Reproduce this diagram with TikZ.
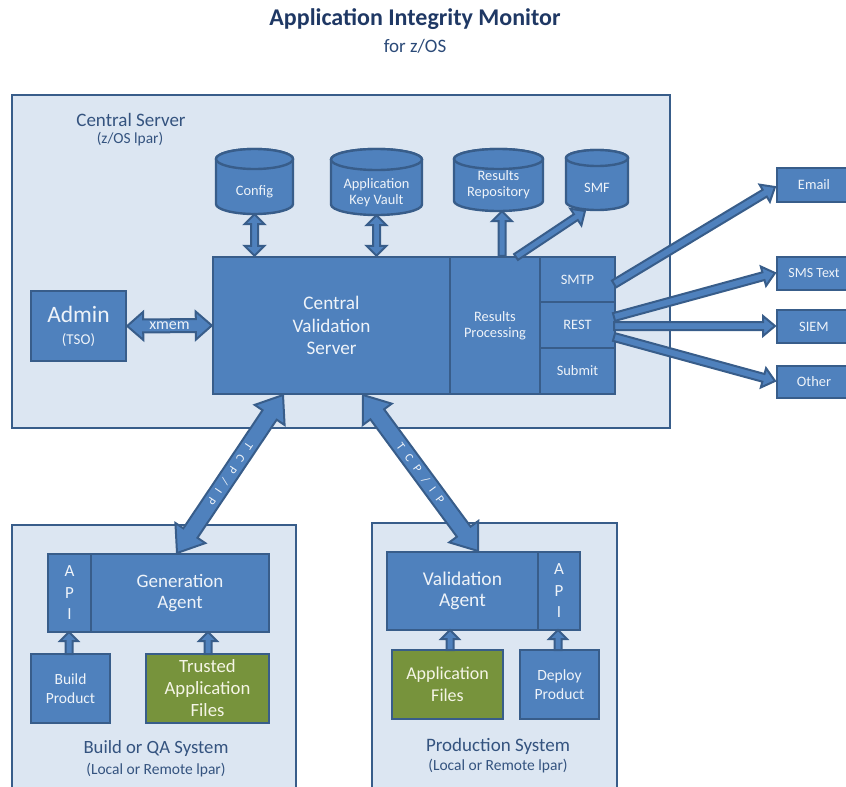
\documentclass[tikz,border=0pt]{standalone}
\usepackage{fontspec}
\setmainfont{Carlito}
\usetikzlibrary{calc}
\definecolor{boxfill}{HTML}{4F81BD}
\definecolor{boxline}{HTML}{385D8A}
\definecolor{contfill}{HTML}{DCE6F2}
\definecolor{grnfill}{HTML}{77933C}
\definecolor{titlec}{HTML}{1F3864}
\definecolor{subc}{HTML}{2B4A78}
\definecolor{labc}{HTML}{34537F}
\definecolor{txtc}{HTML}{EEF3F9}
\definecolor{gtxt}{HTML}{F5F5E6}
\newcommand\fsz[2]{\fontsize{#1pt}{#2pt}\selectfont}
\tikzset{
  cont/.style={draw=boxline, fill=contfill, line width=2.4pt, inner sep=0pt},
  bbox/.style={draw=boxline, fill=boxfill, line width=2.4pt, inner sep=0pt, align=center, text=txtc},
  gbox/.style={bbox, fill=grnfill, text=gtxt},
  cylshape/.style={draw=boxline, fill=boxfill, line width=2.4pt},
  barrow/.style={draw=boxline, fill=boxfill, line width=2pt, line join=miter},
  lab/.style={text=labc, align=center, inner sep=0pt},
  arrtext/.style={text=txtc, inner sep=0pt, font=\fsz{12}{14}},
}
% cylinder: name, cx, top, bottom, rx, ry, text
\newcommand\dbcyl[7]{%
  \filldraw[cylshape] ({#2-#5},{#3+#6}) -- ({#2-#5},{#4-#6})
    arc[start angle=180,end angle=360,x radius=#5pt,y radius=#6pt]
    -- ({#2+#5},{#3+#6})
    arc[start angle=0,end angle=180,x radius=#5pt,y radius=#6pt] -- cycle;
  \draw[cylshape] (#2,{#3+#6}) ellipse[x radius=#5pt,y radius=#6pt];
  \node[align=center, text=txtc, inner sep=0pt, minimum width={2*#5pt},
        minimum height={(#4-#3-2*#6)*1pt}, font=\fsz{14.4}{16}] (#1) at (#2,{(#3+2*#6+#4)/2}) {#7};
}
% single block arrow: from, to, shaft half, head half, head length
\newcommand\sarrow[5]{%
  \coordinate (hb) at ($(#2)!#5!(#1)$);
  \filldraw[barrow] ($(#1)!#3!90:(#2)$) -- ($(hb)!#3!-90:(#1)$) -- ($(hb)!#4!-90:(#1)$)
    -- (#2) -- ($(hb)!#4!90:(#1)$) -- ($(hb)!#3!90:(#1)$) -- ($(#1)!#3!-90:(#2)$) -- cycle;
}
% double block arrow
\newcommand\darrow[5]{%
  \coordinate (ha) at ($(#1)!#5!(#2)$);
  \coordinate (hb) at ($(#2)!#5!(#1)$);
  \filldraw[barrow] (#1) -- ($(ha)!#4!90:(#2)$) -- ($(ha)!#3!90:(#2)$)
    -- ($(hb)!#3!-90:(#1)$) -- ($(hb)!#4!-90:(#1)$) -- (#2)
    -- ($(hb)!#4!90:(#1)$) -- ($(hb)!#3!90:(#1)$)
    -- ($(ha)!#3!-90:(#2)$) -- ($(ha)!#4!-90:(#2)$) -- cycle;
}
\begin{document}
\begin{tikzpicture}[x=1pt,y=-1pt]
\useasboundingbox (0,0) rectangle (846,787);
\clip (0,0) rectangle (846,787);

% title
\node[text=titlec, font=\bfseries\fsz{24}{27}, inner sep=0pt] (title) at (415,19) {Application Integrity Monitor};
\node[text=subc, font=\fsz{19}{22}, inner sep=0pt] (subtitle) at (415,46) {for z/OS};

% containers
\node[cont, minimum width=658pt, minimum height=333pt] (cs) at (341,261.5) {};
\node[lab, font=\fsz{19}{22}] (cslab) at (131,120) {Central Server};
\node[lab, font=\fsz{15.4}{18}] (cssub) at (130,139) {(z/OS lpar)};

\node[cont, minimum width=284pt, minimum height=290pt] (bqa) at (154,670) {};
\node[lab, font=\fsz{18.7}{21}] (bqalab) at (156,749) {Build or QA System};
\node[lab, font=\fsz{15.5}{18}] (bqasub) at (156,770) {(Local or Remote lpar)};

\node[cont, minimum width=245pt, minimum height=290pt] (prod) at (494.5,668) {};
\node[lab, font=\fsz{19}{21}] (prodlab) at (498,746) {Production System};
\node[lab, font=\fsz{15.5}{18}] (prodsub) at (498,766) {(Local or Remote lpar)};

% cylinders
\dbcyl{config}{254.5}{149}{214}{38.5}{10}{Config}
\dbcyl{vault}{376.5}{149}{215}{45.5}{10.5}{Application\\Key Vault}
\dbcyl{repo}{498.5}{149}{211}{44.5}{10}{Results\\Repository\\[-3pt]}
\dbcyl{smf}{597}{150}{210}{31}{8}{SMF}

% central boxes
\node[bbox, minimum width=237pt, minimum height=137pt, font=\fsz{19.2}{22.5}] (cvs) at (331.5,325.5) {Central\\Validation\\Server};
\node[bbox, minimum width=90pt, minimum height=137pt, font=\fsz{14.4}{16}] (rp) at (495,325.5) {Results\\Processing};
\node[bbox, minimum width=75pt, minimum height=45pt, font=\fsz{14.4}{16}] (smtp) at (577.5,279.5) {SMTP};
\node[bbox, minimum width=75pt, minimum height=46pt, font=\fsz{14.4}{16}] (rest) at (577.5,325) {REST};
\node[bbox, minimum width=75pt, minimum height=46pt, font=\fsz{14.4}{16}] (submit) at (577.5,371) {Submit};
\node[bbox, minimum width=95pt, minimum height=70pt, font=\fsz{23.5}{24}] (admin) at (78.5,326) {Admin\\[-2pt]{\fsz{15}{16}(TSO)}};

% outputs
\node[bbox, minimum width=74pt, minimum height=34pt, font=\fsz{14.4}{16}] (email) at (814,185) {Email};
\node[bbox, minimum width=74pt, minimum height=33pt, font=\fsz{14}{16}] (sms) at (814,273.5) {SMS Text};
\node[bbox, minimum width=74pt, minimum height=33pt, font=\fsz{14.4}{16}] (siem) at (814,326.5) {SIEM};
\node[bbox, minimum width=74pt, minimum height=32pt, font=\fsz{14.4}{16}] (other) at (814,382) {Other};

% build side
\node[bbox, minimum width=178pt, minimum height=78pt, font=\fsz{19}{21.5}] (gen) at (180,593) {Generation\\Agent};
\node[bbox, minimum width=43pt, minimum height=78pt, font=\fsz{17}{21.5}] (api1) at (69.5,593) {A\\P\\I};
\node[bbox, minimum width=79pt, minimum height=69pt, font=\fsz{15.5}{19}] (build) at (70.5,688.5) {Build\\Product};
\node[gbox, minimum width=123pt, minimum height=69pt, font=\fsz{18.7}{22}] (trusted) at (207.5,688.5) {Trusted\\Application\\Files};

% production side
\node[bbox, minimum width=151pt, minimum height=78pt, font=\fsz{19.5}{21.5}] (val) at (462.5,591) {Validation\\Agent};
\node[bbox, minimum width=42pt, minimum height=78pt, font=\fsz{17}{21.5}] (api2) at (559,591) {A\\P\\I};
\node[gbox, minimum width=111pt, minimum height=69pt, font=\fsz{18}{22}] (appf) at (447.5,684.5) {Application\\Files};
\node[bbox, minimum width=79pt, minimum height=69pt, font=\fsz{15.6}{19}] (deploy) at (559.5,684.5) {Deploy\\Product};

% cylinder arrows
\coordinate (cfgb) at (config.south |- cvs.north);
\darrow{config.south}{cfgb}{3.5pt}{10pt}{10pt}
\coordinate (vltb) at (vault.south |- cvs.north);
\darrow{vault.south}{vltb}{3.5pt}{10pt}{10pt}
\coordinate (repb) at ([xshift=3.5pt]repo.south);
\coordinate (repa) at (repb |- cvs.north);
\sarrow{repa}{repb}{3.5pt}{10pt}{10pt}
\coordinate (smfa) at (516,257);
\coordinate (smfb) at (585,211);
\sarrow{smfa}{smfb}{3.5pt}{10pt}{11pt}

% xmem
\darrow{admin.east}{cvs.west}{6.5pt}{14pt}{16pt}
\node[arrtext, font=\fsz{16}{17}] (xmem) at ($(admin.east)!0.5!(cvs.west)$) {xmem};

% outputs arrows
\coordinate (o1) at (614,284);
\coordinate (o1b) at (775,187);
\sarrow{o1}{o1b}{4pt}{10pt}{12pt}
\coordinate (o2) at (614,317);
\coordinate (o2b) at (775,273);
\sarrow{o2}{o2b}{4pt}{10pt}{12pt}
\coordinate (o3) at (614,326);
\coordinate (o3b) at (775,326);
\sarrow{o3}{o3b}{4pt}{10pt}{12pt}
\coordinate (o4) at (614,337);
\coordinate (o4b) at (775,381);
\sarrow{o4}{o4b}{4pt}{10pt}{12pt}

% TCP/IP
\coordinate (t1a) at (283,395);
\coordinate (t1b) at (177,553);
\darrow{t1a}{t1b}{8.5pt}{18pt}{24pt}
\node[arrtext, rotate=236] (tcp1) at ($(t1a)!0.5!(t1b)$) {T\hspace{8pt}C\hspace{8pt}P\hspace{8pt}/\hspace{8pt}I\hspace{8pt}P};
\coordinate (t2a) at (363,395);
\coordinate (t2b) at (478,551);
\darrow{t2a}{t2b}{8.5pt}{18pt}{24pt}
\node[arrtext, rotate=-53.6] (tcp2) at ($(t2a)!0.5!(t2b)$) {T\hspace{8pt}C\hspace{8pt}P\hspace{8pt}/\hspace{8pt}I\hspace{8pt}P};

% small up arrows
\coordinate (ba) at (69,654);
\coordinate (bb) at (69,632);
\sarrow{ba}{bb}{3.5pt}{9pt}{9pt}
\coordinate (ta) at (208,654);
\coordinate (tb) at (208,632);
\sarrow{ta}{tb}{3.5pt}{9pt}{9pt}
\coordinate (aa) at (450,650);
\coordinate (ab) at (450,630);
\sarrow{aa}{ab}{3.5pt}{9pt}{9pt}
\coordinate (da) at (558,650);
\coordinate (db) at (558,630);
\sarrow{da}{db}{3.5pt}{9pt}{9pt}
\end{tikzpicture}
\end{document}
